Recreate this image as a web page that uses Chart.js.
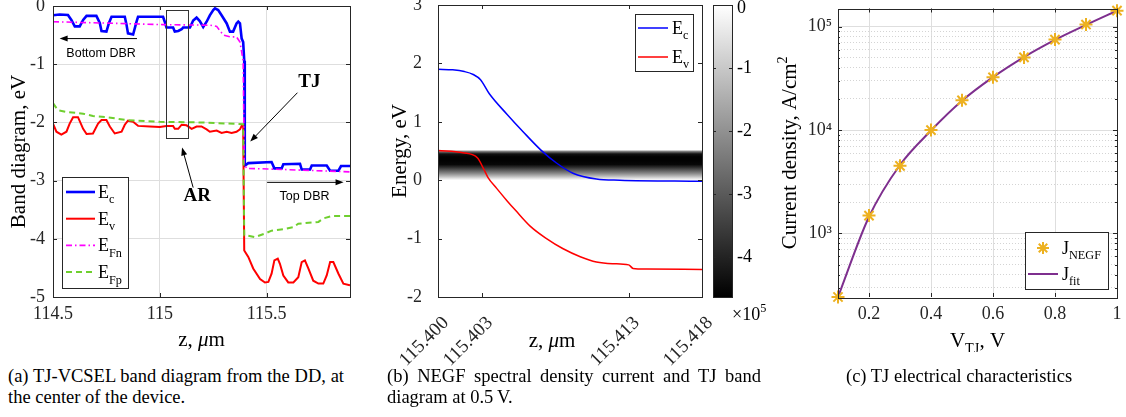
<!DOCTYPE html>
<html>
<head>
<meta charset="utf-8">
<script src="https://cdn.jsdelivr.net/npm/chart.js"></script>
<style>
  body { margin: 0; background: #fff; width: 1126px; height: 417px; overflow: hidden; position: relative; }
  canvas { position: absolute; top: 0; }
  .cap { position: absolute; top: 366px; font-family: "Liberation Serif", serif; font-size: 18.5px; line-height: 21px; color: #000; text-align: justify; }
</style>
</head>
<body>
<canvas id="chartA" width="360" height="352" style="left:0px"></canvas>
<canvas id="chartB" width="406" height="372" style="left:362px"></canvas>
<canvas id="chartC" width="366" height="352" style="left:760px"></canvas>
<div class="cap" style="left:8px;width:336px">(a) TJ-VCSEL band diagram from the DD, at the center of the device.</div>
<div class="cap" style="left:387px;width:374px">(b) NEGF spectral density current and TJ band diagram at 0.5&#8201;V.</div>
<div class="cap" style="left:846px;width:260px;text-align:left">(c) TJ electrical characteristics</div>

<script>
const serif = '"Liberation Serif", "Times New Roman", serif';
const sans = '"Liberation Sans", Arial, sans-serif';
const axisColor = '#262626';
const gridColor = '#dedede';

// ---- (a) band diagram from DD, z in um, energies in eV
const aEcZ = [114.500, 114.531, 114.570, 114.586, 114.602, 114.625, 114.641, 114.657, 114.703, 114.719, 114.727, 114.750, 114.762, 114.774,
  114.836, 114.844, 114.851, 114.875, 114.891, 114.898, 115.015, 115.023, 115.031, 115.062, 115.070, 115.086, 115.102, 115.109,
  115.141, 115.156, 115.172, 115.187, 115.203, 115.219, 115.234, 115.250, 115.258, 115.273, 115.289, 115.313, 115.328, 115.343,
  115.359, 115.367, 115.375, 115.383, 115.390, 115.395, 115.397, 115.398, 115.406, 115.414, 115.523, 115.536, 115.570, 115.578,
  115.656, 115.664, 115.703, 115.711, 115.781, 115.797, 115.836, 115.848, 115.890];
const aEc = [-0.16, -0.145, -0.155, -0.24, -0.35, -0.35, -0.24, -0.17, -0.17, -0.29, -0.43, -0.44, -0.29, -0.185,
  -0.185, -0.32, -0.47, -0.49, -0.27, -0.185, -0.185, -0.27, -0.37, -0.37, -0.44, -0.43, -0.40, -0.37,
  -0.37, -0.25, -0.20, -0.26, -0.36, -0.27, -0.16, -0.07, -0.04, -0.07, -0.16, -0.30, -0.44, -0.44,
  -0.30, -0.27, -0.30, -0.56, -0.62, -0.94, -2.60, -2.74, -2.72, -2.70, -2.68, -2.79, -2.79, -2.72,
  -2.71, -2.81, -2.81, -2.74, -2.74, -2.83, -2.83, -2.75, -2.75];

const aEvZ = [114.500, 114.516, 114.539, 114.563, 114.578, 114.594, 114.617, 114.641, 114.657, 114.687, 114.711, 114.727, 114.750,
  114.766, 114.789, 114.821, 114.836, 114.851, 114.875, 114.898, 114.953, 115.000, 115.031, 115.062, 115.070, 115.086, 115.102,
  115.125, 115.149, 115.172, 115.195, 115.219, 115.234, 115.266, 115.289, 115.313, 115.336, 115.359, 115.375, 115.383, 115.390,
  115.395, 115.414, 115.437, 115.469, 115.492, 115.508, 115.523, 115.536, 115.552, 115.562, 115.578, 115.601, 115.625, 115.648,
  115.664, 115.679, 115.695, 115.718, 115.742, 115.765, 115.781, 115.797, 115.812, 115.836, 115.859, 115.890];
const aEv = [-2.02, -2.16, -2.21, -2.16, -2.02, -1.91, -1.91, -2.11, -2.20, -2.19, -2.02, -1.96, -1.96,
  -2.07, -2.19, -2.16, -2.04, -1.97, -1.99, -2.06, -2.07, -2.08, -2.06, -2.06, -2.11, -2.11, -2.04,
  -2.05, -2.11, -2.07, -2.07, -2.12, -2.16, -2.14, -2.18, -2.16, -2.18, -2.16, -2.12, -2.06, -2.05,
  -4.20, -4.31, -4.51, -4.69, -4.75, -4.74, -4.60, -4.37, -4.34, -4.43, -4.63, -4.75, -4.75, -4.66,
  -4.40, -4.37, -4.51, -4.72, -4.77, -4.77, -4.63, -4.40, -4.40, -4.60, -4.77, -4.80];

const aFnZ = [114.500, 115.015, 115.234, 115.266, 115.297, 115.328, 115.359, 115.375, 115.390, 115.395, 115.406, 115.506, 115.890];
const aFn = [-0.27, -0.32, -0.33, -0.35, -0.50, -0.53, -0.53, -0.62, -0.94, -2.70, -2.79, -2.80, -2.85];

const aFpZ = [114.500, 114.523, 114.563, 114.641, 114.687, 114.750, 114.844, 115.000, 115.187, 115.390, 115.395, 115.406,
  115.445, 115.492, 115.523, 115.586, 115.625, 115.648, 115.742, 115.765, 115.804, 115.890];
const aFp = [-1.67, -1.79, -1.82, -1.85, -1.89, -1.91, -1.96, -1.99, -2.00, -2.03, -3.94, -3.94,
  -3.97, -3.91, -3.86, -3.83, -3.80, -3.74, -3.71, -3.65, -3.61, -3.61];

const aTicksX = [114.5, 115, 115.5];
const aTickLabelsX = ['114.5', '115', '115.5'];
const aTicksY = [0, -1, -2, -3, -4, -5];

// ---- (b) NEGF band edges at 0.5 V, and spectral current density band
const bEcZ = [115.4000, 115.4010, 115.4018, 115.4024, 115.4029, 115.4035, 115.4047, 115.4058, 115.4070, 115.4081, 115.4092, 115.4108, 115.4124, 115.4180];
const bEc = [1.90, 1.89, 1.86, 1.81, 1.72, 1.48, 1.13, 0.83, 0.52, 0.29, 0.12, 0.02, 0.00, -0.02];
const bEvZ = [115.4000, 115.4017, 115.4027, 115.4031, 115.4034, 115.4040, 115.4047, 115.4053, 115.4063, 115.4074, 115.4085,
  115.4097, 115.4108, 115.4119, 115.4130, 115.4133, 115.4142, 115.4180];
const bEv = [0.51, 0.47, 0.38, 0.20, 0.05, -0.14, -0.35, -0.52, -0.79, -1.00, -1.17, -1.31, -1.40, -1.43, -1.45, -1.51, -1.52, -1.53];
const bandE = [0.52, 0.49, 0.45, 0.40, 0.33, 0.27, 0.22, 0.17, 0.12, 0.07, 0.03, 0.0];
const bandJ = [0, -2.5, -4.3, -4.6, -4.6, -4.5, -3.8, -3.0, -2.2, -1.3, -0.5, 0];   // x10^5
const bTicksX = [115.400, 115.403, 115.413, 115.418];
const bTickLabelsX = ['115.400', '115.403', '115.413', '115.418'];
const bTicksY = [3, 2, 1, 0, -1, -2];
const cbTicks = [0, -1, -2, -3, -4];
const cbMin = -4.63, cbMax = 0;

// ---- (c) TJ current density vs voltage
const cV = [0.1, 0.2, 0.3, 0.4, 0.5, 0.6, 0.7, 0.8, 0.9, 1.0];
const cJ = [243, 1490, 4510, 10000, 19400, 32400, 50500, 75000, 105000, 143000];
const cFitV = [0.1, 0.2, 0.3, 0.4, 0.5, 0.6, 0.7, 0.8, 0.9, 1.0];
const cFitJ = [243, 1450, 4600, 9900, 19200, 32500, 50800, 74500, 104000, 143000];
const cTicksX = [0.2, 0.4, 0.6, 0.8, 1];
const cTickLabelsX = ['0.2', '0.4', '0.6', '0.8', '1'];
const cTicksY = [1e3, 1e4, 1e5];
const cTickLabelsY = ['10\u00B3', '10\u2074', '10\u2075'];

function pts(xs, ys) {
  return xs.map((x, i) => ({x: x, y: ys[i]}));
}

function fixAxis(size) {
  return function (s) {
    if (s.isHorizontal()) s.height = size; else s.width = size;
    s.paddingLeft = 0; s.paddingRight = 0; s.paddingTop = 0; s.paddingBottom = 0;
  };
}

function setTicks(vals) {
  return function (s) { s.ticks = vals.map(v => ({value: v})); };
}

// text with sub/superscripts: parts = [[text, kind]], kind '' | 'i' | 'b' | 'sub' | 'sup'
function rich(ctx, parts, x, y, size, align, angle, family) {
  const fam = family || serif;
  const fontFor = k => {
    const s = (k === 'sub' || k === 'sup') ? size * 0.68 : size;
    return (k === 'i' ? 'italic ' : '') + (k === 'b' ? 'bold ' : '') + s + 'px ' + fam;
  };
  ctx.save();
  ctx.translate(x, y);
  if (angle) ctx.rotate(angle);
  let w = 0;
  parts.forEach(p => { ctx.font = fontFor(p[1]); w += ctx.measureText(p[0]).width; });
  let cx = align === 'center' ? -w / 2 : (align === 'right' ? -w : 0);
  ctx.textAlign = 'left';
  ctx.textBaseline = 'alphabetic';
  ctx.fillStyle = '#000';
  parts.forEach(p => {
    ctx.font = fontFor(p[1]);
    const dy = p[1] === 'sub' ? size * 0.3 : (p[1] === 'sup' ? -size * 0.45 : 0);
    ctx.fillText(p[0], cx, dy);
    cx += ctx.measureText(p[0]).width;
  });
  ctx.restore();
}

function arrow(ctx, x1, y1, x2, y2) {
  const ang = Math.atan2(y2 - y1, x2 - x1);
  const hl = 8, hw = 3;
  ctx.beginPath();
  ctx.moveTo(x1, y1);
  ctx.lineTo(x2 - Math.cos(ang) * hl * 0.8, y2 - Math.sin(ang) * hl * 0.8);
  ctx.stroke();
  ctx.beginPath();
  ctx.moveTo(x2, y2);
  ctx.lineTo(x2 - Math.cos(ang) * hl - Math.sin(ang) * hw, y2 - Math.sin(ang) * hl + Math.cos(ang) * hw);
  ctx.lineTo(x2 - Math.cos(ang) * hl + Math.sin(ang) * hw, y2 - Math.sin(ang) * hl - Math.cos(ang) * hw);
  ctx.closePath();
  ctx.fill();
}

function legendBox(ctx, x, y, w, h) {
  ctx.fillStyle = '#fff';
  ctx.fillRect(x, y, w, h);
  ctx.strokeStyle = axisColor;
  ctx.lineWidth = 1;
  ctx.strokeRect(x + 0.5, y + 0.5, w, h);
}

function legendLine(ctx, x1, x2, y, color, width, dash) {
  ctx.save();
  ctx.strokeStyle = color;
  ctx.lineWidth = width;
  ctx.setLineDash(dash || []);
  ctx.beginPath();
  ctx.moveTo(x1, y);
  ctx.lineTo(x2, y);
  ctx.stroke();
  ctx.restore();
}

// box round the axes with inward ticks, MATLAB style
const boxPlugin = {
  id: 'boxPlugin',
  afterDraw(chart) {
    const {ctx, chartArea: a, scales} = chart;
    ctx.save();
    ctx.strokeStyle = axisColor;
    ctx.lineWidth = 1;
    ctx.strokeRect(Math.round(a.left) + 0.5, Math.round(a.top) + 0.5, Math.round(a.right - a.left), Math.round(a.bottom - a.top));
    ctx.beginPath();
    scales.x.ticks.forEach(t => {
      const px = Math.round(scales.x.getPixelForValue(t.value)) + 0.5;
      ctx.moveTo(px, a.bottom); ctx.lineTo(px, a.bottom - 4);
      ctx.moveTo(px, a.top); ctx.lineTo(px, a.top + 4);
    });
    scales.y.ticks.forEach(t => {
      const py = Math.round(scales.y.getPixelForValue(t.value)) + 0.5;
      const lg = scales.y.type === 'logarithmic' ? Math.log10(t.value) : 0;
      const len = Math.abs(lg - Math.round(lg)) < 1e-6 ? 4 : 2;
      ctx.moveTo(a.left, py); ctx.lineTo(a.left + len, py);
      ctx.moveTo(a.right, py); ctx.lineTo(a.right - len, py);
    });
    ctx.stroke();
    ctx.restore();
  }
};

const tickFont = {family: serif, size: 18};

// ---------------- (a)
const annotA = {
  id: 'annotA',
  afterDraw(chart) {
    const {ctx, scales: {x, y}} = chart;
    const X = v => x.getPixelForValue(v), Y = v => y.getPixelForValue(v);
    ctx.save();
    ctx.strokeStyle = '#000';
    ctx.fillStyle = '#000';
    ctx.lineWidth = 1;
    // AR box
    ctx.strokeStyle = '#333';
    ctx.strokeRect(Math.round(X(115.031)) + 0.5, Math.round(Y(-0.07)) + 0.5, Math.round(X(115.134) - X(115.031)), Math.round(Y(-2.27) - Y(-0.07)));
    ctx.strokeStyle = '#000';
    arrow(ctx, X(114.893), Y(-0.56), X(114.531), Y(-0.56));
    arrow(ctx, X(115.156), Y(-3.12), X(115.104), Y(-2.43));
    arrow(ctx, X(115.644), Y(-1.49), X(115.423), Y(-2.33));
    arrow(ctx, X(115.502), Y(-3.03), X(115.86), Y(-3.03));
    ctx.textAlign = 'center';
    ctx.textBaseline = 'middle';
    ctx.font = '12.5px ' + sans;
    ctx.fillText('Bottom DBR', X(114.725), Y(-0.81));
    ctx.fillText('Top DBR', X(115.677), Y(-3.27));
    ctx.font = 'bold 19px ' + serif;
    ctx.fillText('TJ', X(115.70), Y(-1.31));
    ctx.fillText('AR', X(115.175), Y(-3.27));

    // legend
    legendBox(ctx, 62, 177, 66, 111);
    const items = [
      ['c', '#0000ff', 2.6, []],
      ['v', '#ff0000', 2, []],
      ['Fn', '#ff00ff', 1.6, [6, 3, 1.5, 3]],
      ['Fp', '#6fcf2f', 2, [6, 4]]
    ];
    items.forEach((it, i) => {
      const ly = 192 + i * 26.7;
      legendLine(ctx, 66, 95, ly, it[1], it[2], it[3]);
      rich(ctx, [['E', ''], [it[0], 'sub']], 98, ly + 6, 18, 'left');
    });

    // axis titles
    rich(ctx, [['Band diagram, eV', '']], 25, (chart.chartArea.top + chart.chartArea.bottom) / 2, 21, 'center', -Math.PI / 2);
    rich(ctx, [['z, ', ''], ['\u03BC', 'i'], ['m', '']], (chart.chartArea.left + chart.chartArea.right) / 2, 346, 21, 'center');
    ctx.restore();
  }
};

new Chart(document.getElementById('chartA'), {
  type: 'line',
  data: {
    datasets: [
      {label: 'Ec', data: pts(aEcZ, aEc), borderColor: '#0000ff', borderWidth: 2.6, order: 4},
      {label: 'Ev', data: pts(aEvZ, aEv), borderColor: '#ff0000', borderWidth: 2, order: 3},
      {label: 'EFn', data: pts(aFnZ, aFn), borderColor: '#ff00ff', borderWidth: 1.6, borderDash: [6, 3, 1.5, 3], order: 2},
      {label: 'EFp', data: pts(aFpZ, aFp), borderColor: '#6fcf2f', borderWidth: 2, borderDash: [6, 4], order: 1}
    ]
  },
  options: {
    responsive: false,
    animation: false,
    events: [],
    elements: {point: {radius: 0}, line: {tension: 0}},
    layout: {padding: {top: 6, right: 10, left: 0, bottom: 0}},
    plugins: {legend: {display: false}, tooltip: {enabled: false}},
    scales: {
      x: {
        type: 'linear', min: 114.5, max: 115.89,
        afterBuildTicks: setTicks(aTicksX),
        afterFit: fixAxis(55),
        ticks: {font: tickFont, color: axisColor, padding: 6, maxRotation: 0, autoSkip: false,
          callback: (v, i) => aTickLabelsX[i]},
        grid: {color: gridColor, drawTicks: false},
        border: {display: false}
      },
      y: {
        min: -5, max: 0,
        afterBuildTicks: setTicks(aTicksY),
        afterFit: fixAxis(53),
        ticks: {font: tickFont, color: axisColor, padding: 8},
        grid: {color: gridColor, drawTicks: false},
        border: {display: false}
      }
    }
  },
  plugins: [boxPlugin, annotA]
});

// ---------------- (b)
const bandPlugin = {
  id: 'bandPlugin',
  beforeDatasetsDraw(chart) {
    const {ctx, chartArea: a, scales: {y}} = chart;
    const top = y.getPixelForValue(bandE[0]);
    const bot = y.getPixelForValue(bandE[bandE.length - 1]);
    const g = ctx.createLinearGradient(0, top, 0, bot);
    bandE.forEach((e, i) => {
      const c = Math.round(255 * (bandJ[i] - cbMin) / (cbMax - cbMin));
      g.addColorStop((y.getPixelForValue(e) - top) / (bot - top), 'rgb(' + c + ',' + c + ',' + c + ')');
    });
    ctx.save();
    ctx.fillStyle = g;
    ctx.fillRect(a.left, top, a.right - a.left, bot - top);
    ctx.restore();
  },
  afterDraw(chart) {
    const {ctx, chartArea: a} = chart;
    ctx.save();
    // colorbar
    const cbL = Math.round(a.right) + 11, cbW = 19;
    const g = ctx.createLinearGradient(0, a.top, 0, a.bottom);
    g.addColorStop(0, '#fff');
    g.addColorStop(1, '#000');
    ctx.fillStyle = g;
    ctx.fillRect(cbL, a.top, cbW, a.bottom - a.top);
    ctx.strokeStyle = axisColor;
    ctx.lineWidth = 1;
    ctx.strokeRect(cbL + 0.5, Math.round(a.top) + 0.5, cbW, Math.round(a.bottom - a.top));
    ctx.fillStyle = '#000';
    ctx.font = '18px ' + serif;
    ctx.textAlign = 'left';
    ctx.textBaseline = 'middle';
    ctx.beginPath();
    cbTicks.forEach(v => {
      const py = Math.round(a.top + (cbMax - v) / (cbMax - cbMin) * (a.bottom - a.top)) + 0.5;
      ctx.moveTo(cbL, py); ctx.lineTo(cbL + 3, py);
      ctx.moveTo(cbL + cbW, py); ctx.lineTo(cbL + cbW - 3, py);
      ctx.fillText(String(v), cbL + cbW + 5, py + (v === 0 ? 3 : 0));
    });
    ctx.stroke();
    rich(ctx, [['\u00D710', ''], ['5', 'sup']], cbL + 19, 320, 18, 'left');

    // legend
    legendBox(ctx, a.right - 67, a.top + 9, 58, 57);
    legendLine(ctx, a.right - 64, a.right - 34, a.top + 23, '#0000ff', 1.5);
    legendLine(ctx, a.right - 64, a.right - 34, a.top + 52, '#ff0000', 1.5);
    rich(ctx, [['E', ''], ['c', 'sub']], a.right - 30, a.top + 29, 18, 'left');
    rich(ctx, [['E', ''], ['v', 'sub']], a.right - 30, a.top + 58, 18, 'left');

    // axis titles
    rich(ctx, [['Energy, eV', '']], 44, (a.top + a.bottom) / 2, 21, 'center', -Math.PI / 2);
    rich(ctx, [['z, ', ''], ['\u03BC', 'i'], ['m', '']], 190, 347, 21, 'center');
    ctx.restore();
  }
};

new Chart(document.getElementById('chartB'), {
  type: 'line',
  data: {
    datasets: [
      {label: 'Ec', data: pts(bEcZ, bEc), borderColor: '#0000ff', borderWidth: 1.5, cubicInterpolationMode: 'monotone'},
      {label: 'Ev', data: pts(bEvZ, bEv), borderColor: '#ff0000', borderWidth: 1.5, cubicInterpolationMode: 'monotone'}
    ]
  },
  options: {
    responsive: false,
    animation: false,
    events: [],
    elements: {point: {radius: 0}},
    layout: {padding: {top: 5, right: 66, left: 0, bottom: 0}},
    plugins: {legend: {display: false}, tooltip: {enabled: false}},
    scales: {
      x: {
        type: 'linear', min: 115.400, max: 115.418,
        afterBuildTicks: setTicks(bTicksX),
        afterFit: fixAxis(75),
        ticks: {font: {family: serif, size: 19}, color: axisColor, padding: 7, labelOffset: 8,
          minRotation: 45, maxRotation: 45, autoSkip: false,
          callback: (v, i) => bTickLabelsX[i]},
        grid: {display: false},
        border: {display: false}
      },
      y: {
        min: -2, max: 3,
        afterBuildTicks: setTicks(bTicksY),
        afterFit: fixAxis(76),
        ticks: {font: tickFont, color: axisColor, padding: 8},
        grid: {display: false},
        border: {display: false}
      }
    }
  },
  plugins: [bandPlugin, boxPlugin]
});

// ---------------- (c)
const isDecade = v => Math.abs(Math.log10(v) - Math.round(Math.log10(v))) < 1e-6;

const annotC = {
  id: 'annotC',
  afterDraw(chart) {
    const {ctx, chartArea: a} = chart;
    ctx.save();
    legendBox(ctx, a.right - 92, a.bottom - 65, 83, 57);
    // star marker like the data
    const sx = a.right - 74, sy = a.bottom - 49;
    ctx.strokeStyle = '#EDB120';
    ctx.lineWidth = 2;
    ctx.beginPath();
    for (let k = 0; k < 4; k++) {
      const an = k * Math.PI / 4;
      ctx.moveTo(sx - 6 * Math.cos(an), sy - 6 * Math.sin(an));
      ctx.lineTo(sx + 6 * Math.cos(an), sy + 6 * Math.sin(an));
    }
    ctx.stroke();
    rich(ctx, [['J', ''], ['NEGF', 'sub']], a.right - 55, sy + 6, 18, 'left');
    legendLine(ctx, a.right - 89, a.right - 59, a.bottom - 23, '#7E2F8E', 2);
    rich(ctx, [['J', ''], ['fit', 'sub']], a.right - 55, a.bottom - 17, 18, 'left');

    rich(ctx, [['Current density, A/cm', ''], ['2', 'sup']], 36, (a.top + a.bottom) / 2, 21, 'center', -Math.PI / 2);
    rich(ctx, [['V', ''], ['TJ', 'sub'], [', V', '']], (a.left + a.right) / 2, 347, 21, 'center');
    ctx.restore();
  }
};

new Chart(document.getElementById('chartC'), {
  type: 'line',
  data: {
    datasets: [
      {label: 'J_NEGF', data: pts(cV, cJ), showLine: false, pointStyle: 'star', pointRadius: 6.5,
        borderColor: '#EDB120', pointBorderWidth: 2, clip: false, order: 1},
      {label: 'J_fit', data: pts(cFitV, cFitJ), borderColor: '#7E2F8E', borderWidth: 2, pointRadius: 0,
        cubicInterpolationMode: 'monotone', order: 2}
    ]
  },
  options: {
    responsive: false,
    animation: false,
    events: [],
    layout: {padding: {top: 7, right: 9, left: 0, bottom: 0}},
    plugins: {legend: {display: false}, tooltip: {enabled: false}},
    scales: {
      x: {
        type: 'linear', min: 0.1, max: 1,
        afterBuildTicks: setTicks(cTicksX),
        afterFit: fixAxis(55),
        ticks: {font: tickFont, color: axisColor, padding: 6, maxRotation: 0, autoSkip: false,
          callback: (v, i) => cTickLabelsX[i]},
        grid: {color: gridColor, drawTicks: false},
        border: {display: false}
      },
      y: {
        type: 'logarithmic', min: 243, max: 150000,
        afterBuildTicks: s => {
          const t = [];
          for (let d = 100; d <= 1e5; d *= 10) {
            for (let m = 1; m < 10; m++) {
              const v = m * d;
              if (v > s.min && v < s.max) t.push({value: v});
            }
          }
          s.ticks = t;
        },
        afterFit: fixAxis(78),
        ticks: {font: tickFont, color: axisColor, padding: 6, autoSkip: false,
          callback: v => { const i = cTicksY.indexOf(v); return i >= 0 ? cTickLabelsY[i] : ''; }},
        grid: {
          drawTicks: false,
          color: c => isDecade(c.tick.value) ? gridColor : '#d4d4d4',
          lineWidth: 1
        },
        border: {display: false, dash: c => isDecade(c.tick.value) ? [] : [1, 2]}
      }
    }
  },
  plugins: [boxPlugin, annotC]
});
</script>
</body>
</html>
